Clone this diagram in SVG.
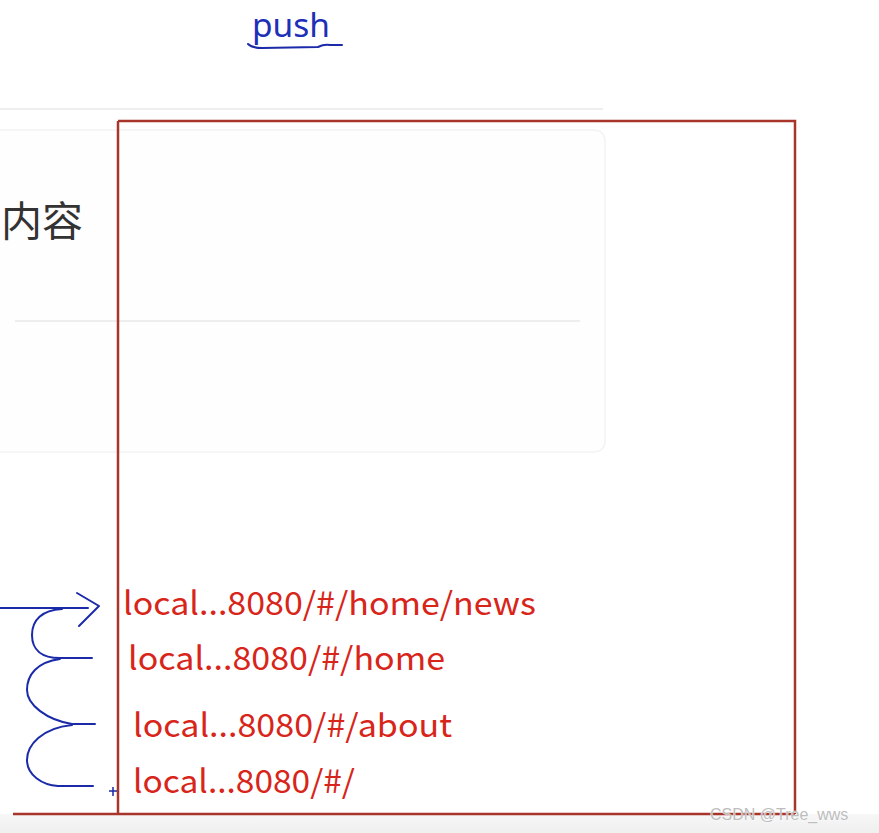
<svg xmlns="http://www.w3.org/2000/svg" width="879" height="833" viewBox="0 0 879 833">
  <defs>
    <linearGradient id="bottomBg" x1="0" y1="0" x2="0" y2="1">
      <stop offset="0" stop-color="#f7f7f7"/>
      <stop offset="1" stop-color="#efefef"/>
    </linearGradient>
  </defs>
  <style>
    .url { font-family: "Noto Sans CJK SC", "Liberation Sans", sans-serif; font-size: 32px; fill: #d8251a; }
    .blue { fill: none; stroke: #1a2aa8; stroke-width: 2; stroke-linecap: round; stroke-linejoin: round; }
    .faint { stroke: #e8e8e8; stroke-width: 1.5; fill: none; }
    .frame { fill: none; stroke: #a8352a; stroke-width: 2.5; }
  </style>
  <rect x="0" y="0" width="879" height="833" fill="#ffffff"/>
  <rect x="0" y="814" width="879" height="19" fill="url(#bottomBg)"/>

  <g id="push-title">
    <text x="252" y="37" font-family="'Noto Sans', 'Liberation Sans', sans-serif" font-size="32" fill="#1e2fb8" textLength="78" lengthAdjust="spacingAndGlyphs">push</text>
    <path class="blue" d="M248,44 Q252,48 262,48 L318,47 Q324,44 330,45 L342,45"/>
  </g>

  <g id="background-page">
    <line class="faint" x1="0" y1="109" x2="603" y2="109"/>
    <path d="M0,130 L593,130 Q605,130 605,142 L605,440 Q605,452 593,452 L0,452" fill="#fefefe" stroke="#f3f3f3" stroke-width="1.5"/>
    <text x="1" y="236" font-family="'Noto Sans CJK SC', sans-serif" font-size="41" fill="#333333">内容</text>
    <line class="faint" x1="15" y1="321" x2="580" y2="321"/>
  </g>

  <g id="stack-frame">
    <path class="frame" d="M118,121 L795,121 L795,814 M118,121 L118,814 M13,814 L795,814"/>
  </g>

  <g id="url-news"><text class="url" x="123" y="615" textLength="413" lengthAdjust="spacingAndGlyphs">local...8080/#/home/news</text></g>
  <g id="url-home"><text class="url" x="128" y="670" textLength="317" lengthAdjust="spacingAndGlyphs">local...8080/#/home</text></g>
  <g id="url-about"><text class="url" x="133" y="737" textLength="319" lengthAdjust="spacingAndGlyphs">local...8080/#/about</text></g>
  <g id="url-root"><text class="url" x="133" y="793" textLength="222" lengthAdjust="spacingAndGlyphs">local...8080/#/</text></g>

  <g id="connectors">
    <path class="blue" d="M0,608 L88,608"/>
    <path class="blue" d="M77,593 L99,606 L79,626"/>
    <path class="blue" d="M62,609 C42,610 32,620 32,635 C32,650 42,658 60,658 L92,658"/>
    <path class="blue" d="M60,659 C37,662 27,675 27,690 C27,705 47,720 72,724 L95,724"/>
    <path class="blue" d="M72,725 C42,728 27,745 27,760 C27,775 42,785 58,786 L93,786"/>
    <path d="M109,791 L117,791 M113,787 L113,796" stroke="#1a2aa8" stroke-width="1.5"/>
  </g>

  <text x="710" y="820" font-family="'Liberation Sans', sans-serif" font-size="16" fill="#bdbdbd" stroke="#ffffff" stroke-width="0.6" paint-order="stroke">CSDN @Tree_wws</text>
</svg>
